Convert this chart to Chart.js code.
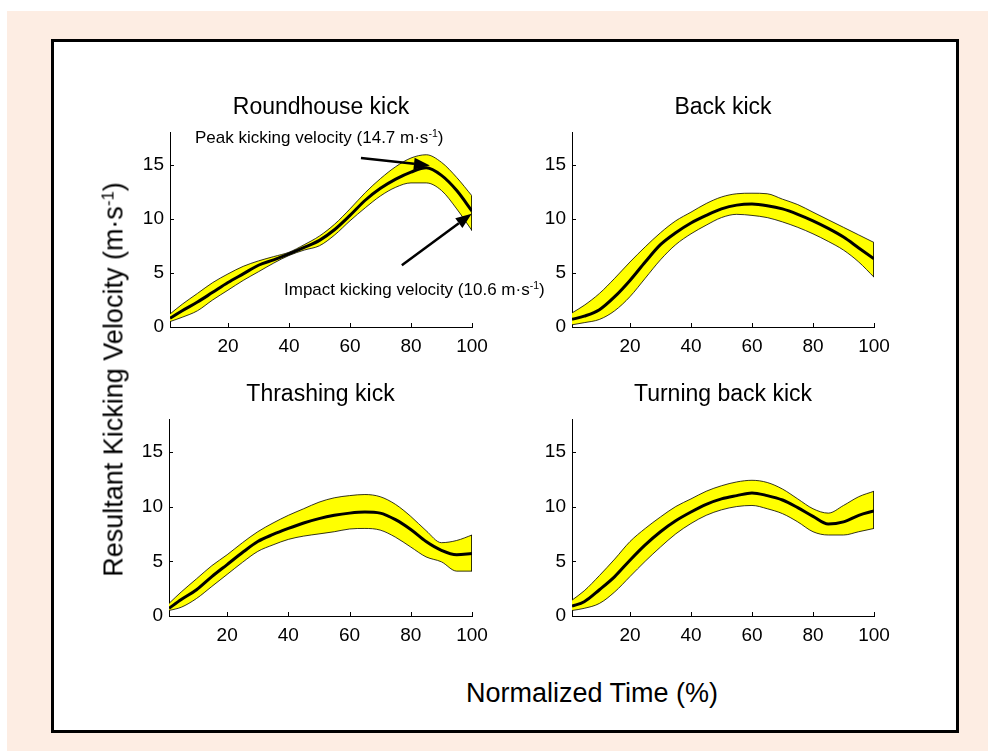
<!DOCTYPE html>
<html>
<head>
<meta charset="utf-8">
<script src="https://cdn.jsdelivr.net/npm/chart.js@4.4.0/dist/chart.umd.min.js"></script>
<style>
  body { margin: 0; background: #fff; font-family: "Liberation Sans", Arial, sans-serif; }
  #page { position: absolute; left: 7px; top: 11px; width: 981px; height: 740px; background: #FDEDE3; }
  #frame { position: absolute; left: 51px; top: 39px; width: 902px; height: 688px; border: 3px solid #000; background: #fff; }
  canvas { position: absolute; }
  .lbl { position: absolute; color: #000; white-space: nowrap; }
  .lbl sup { font-size: 0.62em; vertical-align: 0.55em; line-height: 0; }
</style>
</head>
<body>
<div id="page"></div>
<div id="frame"></div>

<canvas id="c1" width="372" height="263" style="left:125px;top:94px"></canvas>
<canvas id="c2" width="372" height="263" style="left:527px;top:94px"></canvas>
<canvas id="c3" width="373" height="265" style="left:124px;top:381px"></canvas>
<canvas id="c4" width="372" height="265" style="left:527px;top:381px"></canvas>

<div class="lbl" style="left:195px;top:129px;font-size:17px;line-height:17px">Peak kicking velocity (14.7 m·s<sup>-1</sup>)</div>
<div class="lbl" style="left:284px;top:281px;font-size:17px;line-height:17px">Impact kicking velocity (10.6 m·s<sup>-1</sup>)</div>
<div class="lbl" style="left:342px;top:680px;width:500px;text-align:center;font-size:27px;line-height:27px">Normalized Time (%)</div>
<div class="lbl" style="left:-136px;top:366px;width:500px;text-align:center;font-size:27px;line-height:27px;transform:rotate(-90deg)">Resultant Kicking Velocity (m·s<sup>-1</sup>)</div>

<script>
// normalized time (%) and tick labels
const timePct = [1, 5, 10, 15, 20, 25, 30, 35, 40, 45, 50, 55, 60, 65, 70, 75, 80, 85, 90, 95, 100];
const xTicks = [20, 40, 60, 80, 100];
const yTicks = [0, 5, 10, 15];

// roundhouse kick: mean and +/- SD band
const roundMean  = [0.8, 1.5, 2.3, 3.2, 4.1, 4.9, 5.7, 6.2, 6.75, 7.35, 8.0, 9.0, 10.3, 11.7, 12.8, 13.65, 14.3, 14.7, 14.0, 12.6, 10.7];
const roundUpper = [1.2, 2.1, 3.1, 4.1, 4.9, 5.6, 6.1, 6.5, 6.9, 7.6, 8.4, 9.5, 10.9, 12.4, 13.7, 14.8, 15.6, 15.9, 15.2, 13.8, 12.1];
const roundLower = [0.5, 0.9, 1.5, 2.5, 3.4, 4.3, 5.1, 5.9, 6.6, 7.1, 7.5, 8.5, 9.8, 11.0, 12.1, 12.9, 13.3, 13.3, 12.6, 10.9, 8.9];

// back kick
const backMean  = [0.7, 1.0, 1.6, 2.8, 4.3, 6.0, 7.6, 8.7, 9.6, 10.3, 10.9, 11.25, 11.35, 11.2, 10.9, 10.4, 9.8, 9.1, 8.3, 7.3, 6.3];
const backUpper = [1.3, 2.0, 3.1, 4.5, 6.0, 7.4, 8.7, 9.8, 10.6, 11.4, 12.0, 12.3, 12.35, 12.3, 11.8, 11.3, 10.6, 9.9, 9.2, 8.5, 7.8];
const backLower = [0.2, 0.4, 0.7, 1.5, 2.8, 4.5, 6.2, 7.6, 8.6, 9.4, 10.1, 10.4, 10.3, 10.1, 9.7, 9.2, 8.6, 7.9, 7.1, 6.0, 4.6];

// thrashing kick
const thrashMean  = [0.7, 1.5, 2.4, 3.6, 4.7, 5.8, 6.8, 7.45, 8.0, 8.5, 8.9, 9.2, 9.4, 9.5, 9.4, 8.8, 7.9, 6.8, 6.0, 5.6, 5.7];
const thrashUpper = [1.15, 2.2, 3.4, 4.6, 5.6, 6.7, 7.7, 8.5, 9.2, 9.8, 10.4, 10.8, 11.0, 11.1, 10.9, 10.2, 9.1, 7.8, 6.7, 6.9, 7.4];
const thrashLower = [0.5, 0.8, 1.6, 2.7, 3.8, 4.9, 5.9, 6.5, 7.0, 7.3, 7.5, 7.7, 7.95, 8.0, 7.85, 7.2, 6.3, 5.4, 4.95, 4.1, 4.1];

// turning back kick
const turnMean  = [0.9, 1.3, 2.4, 3.6, 5.1, 6.5, 7.7, 8.7, 9.5, 10.2, 10.7, 11.0, 11.25, 11.0, 10.6, 9.9, 9.1, 8.4, 8.6, 9.2, 9.6];
const turnUpper = [1.45, 2.3, 3.7, 5.2, 6.8, 8.0, 9.05, 10.0, 10.7, 11.4, 11.9, 12.25, 12.4, 12.2, 11.6, 10.7, 9.8, 9.4, 10.1, 10.9, 11.4];
const turnLower = [0.5, 0.7, 1.15, 2.2, 3.6, 5.0, 6.3, 7.5, 8.45, 9.2, 9.7, 10.0, 10.1, 9.8, 9.35, 8.6, 7.7, 7.4, 7.4, 7.7, 8.0];

// annotation arrows for the roundhouse panel, [tail, tip] in data units
const peakArrow = [[63.6, 15.6], [86.2, 14.9]];
const impactArrow = [[77, 5.7], [99.9, 10.46]];

const FONT = "'Liberation Sans', Arial, sans-serif";

function pts(values) {
    return values.map((v, i) => ({ x: timePct[i], y: v }));
}

// matlab style ticks pointing into the plot, plus the closing edge of the band
const innerTicks = {
    id: 'innerTicks',
    afterDraw(chart) {
        const ctx = chart.ctx;
        const xs = chart.scales.x;
        const ys = chart.scales.y;
        ctx.save();
        ctx.strokeStyle = '#000';
        ctx.lineWidth = 1;
        ctx.beginPath();
        xTicks.forEach(v => {
            const px = Math.round(xs.getPixelForValue(v)) + 0.5;
            ctx.moveTo(px, ys.bottom);
            ctx.lineTo(px, ys.bottom - 4);
        });
        yTicks.forEach(v => {
            const py = Math.round(ys.getPixelForValue(v)) + 0.5;
            ctx.moveTo(xs.left, py);
            ctx.lineTo(xs.left + 4, py);
        });
        ctx.stroke();

        const up = chart.data.datasets[1].data;
        const lo = chart.data.datasets[2].data;
        const last = up.length - 1;
        const ex = xs.getPixelForValue(up[last].x) - 0.5;
        ctx.lineWidth = 0.8;
        ctx.beginPath();
        ctx.moveTo(ex, ys.getPixelForValue(up[last].y));
        ctx.lineTo(ex, ys.getPixelForValue(lo[last].y));
        ctx.stroke();
        ctx.restore();
    }
};

function drawArrow(chart, arrow) {
    const ctx = chart.ctx;
    const xs = chart.scales.x;
    const ys = chart.scales.y;
    const x0 = xs.getPixelForValue(arrow[0][0]), y0 = ys.getPixelForValue(arrow[0][1]);
    const x1 = xs.getPixelForValue(arrow[1][0]), y1 = ys.getPixelForValue(arrow[1][1]);
    const ang = Math.atan2(y1 - y0, x1 - x0);
    const len = 16, half = 6;
    const bx = x1 - len * Math.cos(ang), by = y1 - len * Math.sin(ang);
    ctx.save();
    ctx.strokeStyle = '#000';
    ctx.fillStyle = '#000';
    ctx.lineWidth = 2.5;
    ctx.beginPath();
    ctx.moveTo(x0, y0);
    ctx.lineTo(bx, by);
    ctx.stroke();
    ctx.beginPath();
    ctx.moveTo(x1, y1);
    ctx.lineTo(bx + half * Math.sin(ang), by - half * Math.cos(ang));
    ctx.lineTo(bx - half * Math.sin(ang), by + half * Math.cos(ang));
    ctx.closePath();
    ctx.fill();
    ctx.restore();
}

const arrows = {
    id: 'arrows',
    afterDraw(chart) {
        drawArrow(chart, peakArrow);
        drawArrow(chart, impactArrow);
    }
};

function makeChart(id, title, mean, upper, lower, extraPlugins) {
    return new Chart(id, {
        type: 'line',
        data: {
            datasets: [
                { data: pts(mean), borderColor: '#000', borderWidth: 3, pointRadius: 0, fill: false, cubicInterpolationMode: 'monotone' },
                { data: pts(upper), borderColor: '#000', borderWidth: 0.8, pointRadius: 0, fill: '+1', backgroundColor: '#FFFF00', cubicInterpolationMode: 'monotone' },
                { data: pts(lower), borderColor: '#000', borderWidth: 0.8, pointRadius: 0, fill: false, cubicInterpolationMode: 'monotone' }
            ]
        },
        options: {
            responsive: false,
            animation: false,
            devicePixelRatio: 1,
            layout: { padding: { top: 0, left: 0, right: 25, bottom: 0 } },
            plugins: {
                legend: { display: false },
                tooltip: { enabled: false },
                filler: { drawTime: 'beforeDatasetsDraw' },
                title: {
                    display: true,
                    fullSize: false,
                    text: title,
                    color: '#000',
                    font: { family: FONT, size: 23, weight: 'normal', lineHeight: '28px' },
                    padding: { top: 0, bottom: 10 }
                }
            },
            scales: {
                x: {
                    type: 'linear',
                    min: 1,
                    max: 100,
                    afterBuildTicks: s => { s.ticks = xTicks.map(v => ({ value: v })); },
                    afterFit: s => { s.height = 30; },
                    grid: { display: false, drawTicks: false },
                    border: { display: true, color: '#000', width: 1 },
                    ticks: { color: '#000', font: { family: FONT, size: 19 }, padding: 8, maxRotation: 0 }
                },
                y: {
                    type: 'linear',
                    min: 0,
                    max: 18,
                    afterBuildTicks: s => { s.ticks = yTicks.map(v => ({ value: v })); },
                    afterFit: s => { s.width = 45; },
                    grid: { display: false, drawTicks: false },
                    border: { display: true, color: '#000', width: 1 },
                    ticks: { color: '#000', font: { family: FONT, size: 19 }, padding: 6 }
                }
            }
        },
        plugins: [innerTicks].concat(extraPlugins || [])
    });
}

makeChart('c1', 'Roundhouse kick', roundMean, roundUpper, roundLower, [arrows]);
makeChart('c2', 'Back kick', backMean, backUpper, backLower);
makeChart('c3', 'Thrashing kick', thrashMean, thrashUpper, thrashLower);
makeChart('c4', 'Turning back kick', turnMean, turnUpper, turnLower);
</script>
</body>
</html>
